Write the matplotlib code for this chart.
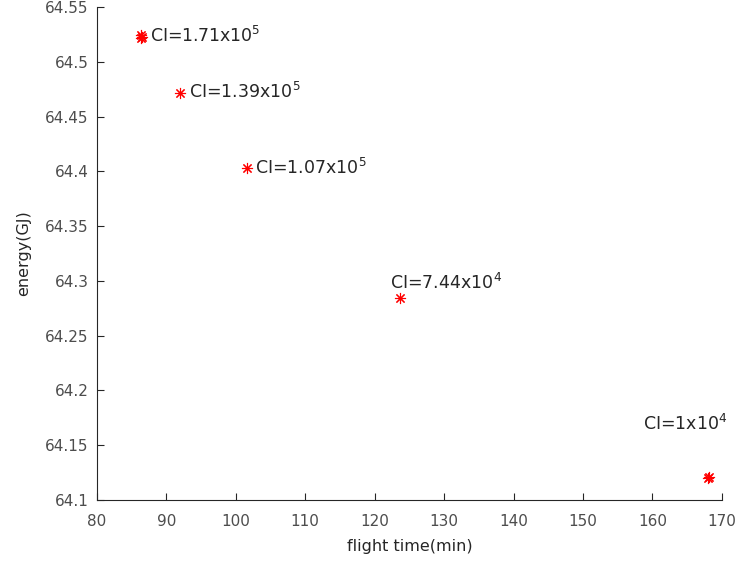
import numpy as np
import matplotlib
matplotlib.use("Agg")
import matplotlib.pyplot as plt

plt.rcParams['font.family'] = ['DejaVu Sans']
plt.rcParams['mathtext.default'] = 'regular'

# points (the two bold stars are several near-identical runs)
flight_time = [86.3, 86.5, 86.4, 91.95, 101.55, 123.7, 168.0, 168.2]
energy = [64.5240, 64.5230, 64.5215, 64.4718, 64.4028, 64.2847, 64.1205, 64.1210]

# labels and where they were placed
labels = [r'CI=1.71x10$^5$', r'CI=1.39x10$^5$', r'CI=1.07x10$^5$',
          r'CI=7.44x10$^4$', r'CI=1x10$^4$']
label_x = [87.6, 93.25, 102.75, 122.2, 158.6]
label_y = [64.5235, 64.4725, 64.4035, 64.298, 64.169]

xticks = np.arange(80, 171, 10)
yticks = np.round(np.arange(64.1, 64.551, 0.05), 2)

fig = plt.figure(figsize=(7.38, 5.69), dpi=100)
ax = fig.add_axes([0.1314, 0.1213, 0.8466, 0.8664])

# matlab style '*' marker: 8 arm asterisk
ax.plot(flight_time, energy, linestyle='none', marker=(8, 2, 0), color='red',
        markersize=8, markeredgewidth=0.8)

for t, x, y in zip(labels, label_x, label_y):
    ax.text(x, y, t, fontsize=12.5, color='#262626', va='center', ha='left')

ax.set_xlim(80, 170)
ax.set_ylim(64.1, 64.55)
ax.set_xticks(xticks)
ax.set_yticks(yticks)
ax.set_yticklabels([('%g' % v) for v in yticks])

for s in ['top', 'right']:
    ax.spines[s].set_visible(False)
for s in ['left', 'bottom']:
    ax.spines[s].set_color('#262626')
    ax.spines[s].set_linewidth(0.8)

ax.tick_params(direction='in', length=5, width=0.8, colors='#262626',
               labelsize=11, labelcolor='#4d4d4d')
ax.tick_params(axis='x', pad=10)
ax.tick_params(axis='y', pad=6)

ax.set_xlabel('flight time(min)', fontsize=11.5, color='#262626', labelpad=7)
ax.set_ylabel('energy(GJ)', fontsize=11.5, color='#262626', labelpad=10)

fig.savefig('out.png', dpi=100)
